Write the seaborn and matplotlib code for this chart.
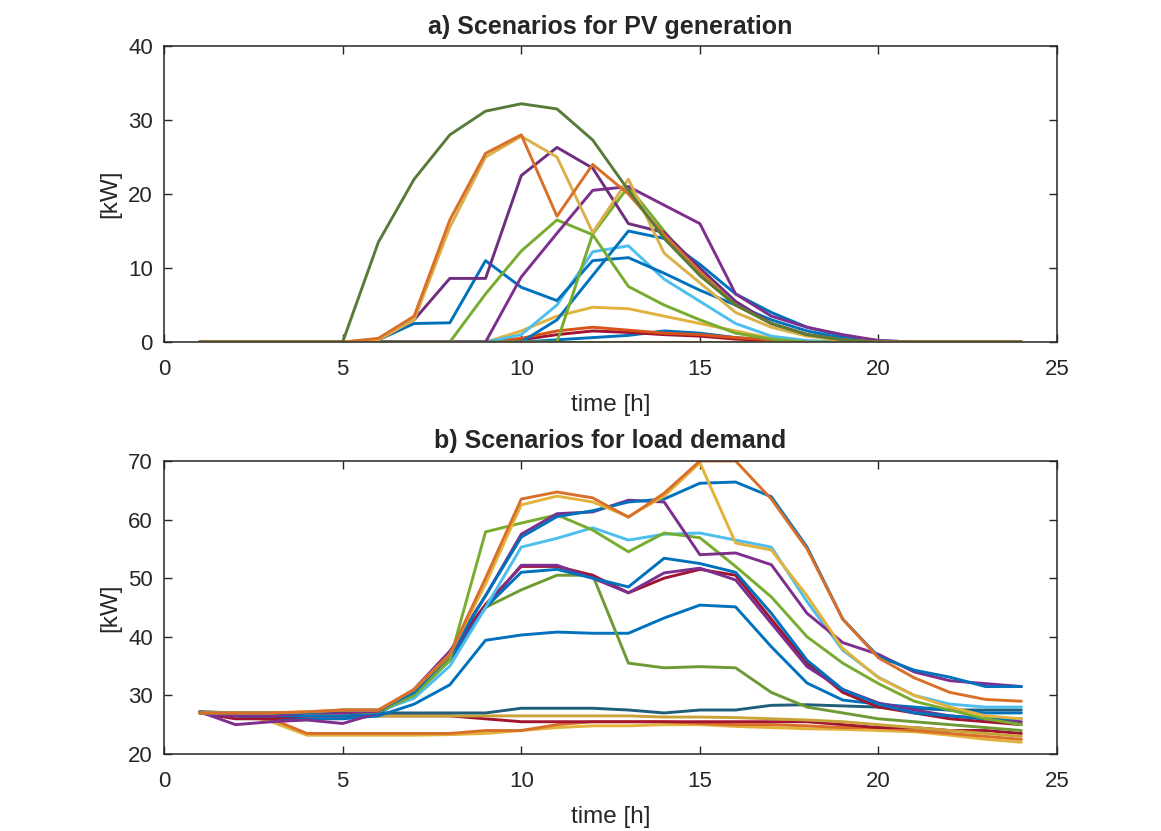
import numpy as np
import pandas as pd
import matplotlib
matplotlib.use("Agg")
import matplotlib.pyplot as plt
import seaborn as sns

hours = list(range(1, 25))

# ---------------- PV generation scenarios [kW] ----------------
pv_zero = [0]*24
pv_s1 = [0,0,0,0,0,13.5,22,28,31.2,32.2,31.5,27.3,20.5,14,9,5,2.5,1,0.3,0,0,0,0,0]
pv_s2 = [0,0,0,0,0,0.5,3.5,16.5,25.5,28,17,24,20,14.5,9.5,5,2.5,1,0.3,0,0,0,0,0]
pv_s3 = [0,0,0,0,0,0.3,3,15.5,25,27.8,25,14.8,22,12,8,4,2,0.8,0.2,0,0,0,0,0]
pv_s4 = [0,0,0,0,0,0.3,3,8.6,8.6,22.5,26.3,23.5,16,14.8,10,5.5,2.5,1,0.3,0,0,0,0,0]
pv_s5 = [0,0,0,0,0,0.3,2.5,2.6,11,7.4,5.6,11,11.4,9.3,7,5,3,1.5,0.5,0,0,0,0,0]
pv_s6 = [0,0,0,0,0,0,0,0,0,1,5,12.2,13,8.5,5.5,2.5,0.8,0.2,0,0,0,0,0,0]
pv_s7 = [0,0,0,0,0,0,0,0,6.5,12.3,16.5,14.5,7.5,5,3,1.2,0.4,0,0,0,0,0,0,0]
pv_s8 = [0,0,0,0,0,0,0,0,0,0,0,14.6,21,15,9,5,2.5,1,0.3,0,0,0,0,0]
pv_s9 = [0,0,0,0,0,0,0,0,0,8.8,14.7,20.5,21,18.5,16,6.5,3.5,2,1,0.2,0,0,0,0]
pv_s10 = [0,0,0,0,0,0,0,0,0,1.5,3.5,4.7,4.5,3.5,2.5,1.5,0.5,0.1,0,0,0,0,0,0]
pv_s11 = [0,0,0,0,0,0,0,0,0,0.5,1.5,2,1.6,1.2,1,0.6,0.3,0,0,0,0,0,0,0]
pv_s12 = [0,0,0,0,0,0,0,0,0,0.3,1,1.5,1.3,1,0.8,0.4,0.2,0,0,0,0,0,0,0]
pv_s13 = [0,0,0,0,0,0,0,0,0,0,0.3,0.6,0.9,1.5,1.2,0.6,0.2,0,0,0,0,0,0,0]
pv_s14 = [0,0,0,0,0,0,0,0,0,0,3,9,15,14,10.5,6.5,4,2,0.8,0.2,0,0,0,0]

pv_series = {
    "pv_zero_a": pv_zero, "pv_s13": pv_s13, "pv_s12": pv_s12, "pv_s11": pv_s11,
    "pv_s10": pv_s10, "pv_s6": pv_s6, "pv_s5": pv_s5, "pv_s14": pv_s14,
    "pv_s7": pv_s7, "pv_s8": pv_s8, "pv_s9": pv_s9,
    "pv_s4": pv_s4, "pv_s3": pv_s3, "pv_s2": pv_s2, "pv_s1": pv_s1,
    "pv_zero_b": pv_zero,
}
pv_colors = {
    "pv_zero_a": "#0072BD", "pv_s13": "#0072BD", "pv_s12": "#A2142F", "pv_s11": "#D95319",
    "pv_s10": "#E3B23C", "pv_s6": "#4DBEEE", "pv_s5": "#0072BD", "pv_s14": "#0072BD",
    "pv_s7": "#77AC30", "pv_s8": "#77AC30", "pv_s9": "#7E2F8E",
    "pv_s4": "#6E2F7E", "pv_s3": "#D9B04A", "pv_s2": "#D9702A", "pv_s1": "#587B3A",
    "pv_zero_b": "#E3B23C",
}

# ---------------- Load demand scenarios [kW] ----------------
ld_low_yellow = [27,27,25.5,23.2,23.2,23.2,23.2,23.3,23.5,24,24.5,24.8,24.8,25,25,24.7,24.5,24.3,24.2,24,23.8,23.2,22.5,22]
ld_low_orange = [27,27,26,23.5,23.5,23.5,23.5,23.5,24,24,25,25.5,25.5,25.5,25.2,25,25,24.8,24.5,24.5,24,23.5,23,22.5]
ld_low_darkred = [27,26.8,26.5,26.5,26.5,26.5,26.5,26.5,26,25.5,25.5,25.5,25.5,25.5,25.5,25.5,25.5,25.5,25,24.5,24.5,24,24,23.5]
ld_flat_yellow = [27.2,27,26.8,26.7,26.6,26.5,26.5,26.5,26.5,26.5,26.5,26.5,26.5,26.3,26.3,26.2,26,25.8,25.5,25,24.5,24,23.5,23]
ld_flat_teal = [27.2,27,27,27,27,27,27,27,27,27.8,27.8,27.8,27.5,27,27.5,27.5,28.3,28.4,28.2,28,27.8,27.5,27.5,27.5]
ld_blue3 = [27,26.5,26,26,26,26.5,28.5,31.8,39.4,40.3,40.8,40.6,40.6,43.2,45.4,45.1,38.3,32.1,29.2,28.5,28,27.5,27,27]
ld_green2 = [27,27,27,27,27,27.3,30.5,36.5,45,48,50.5,50.5,35.5,34.7,34.9,34.7,30.5,28,27,26,25.5,25,24.5,24]
ld_darkred = [27,26,26,26.5,26.5,27,31,37.5,45.5,52,52,50.5,47.5,50,51.5,50.5,43,35.5,30.5,28,27,26,25.5,25]
ld_purple2 = [27.2,25,25.5,25.8,25.2,27,31,37,45,52.2,52.2,50,47.5,50.9,51.7,49.7,42.3,34.9,31,28.7,27.5,26.5,26,25.5]
ld_blue2 = [27,26.5,26.5,26.5,26.5,27,30,36,45,51,51.5,50,48.5,53.4,52.5,51,44,36,31,28.5,27,26.5,26,26]
ld_lblue = [27,27,27,27,27,27.3,29.5,35,45,55.3,56.8,58.6,56.5,57.5,57.7,56.5,55.3,46,37.7,33.1,30,28.5,28,28]
ld_green1 = [27,27,27,27,27,27.2,30,36,57.9,59.4,60.8,58.2,54.5,57.7,56.9,52,46.8,40,35.5,32,29,27.5,26,25]
ld_purple1 = [27,26.5,26.5,27,27,27.3,31,37.5,47,57.5,61,61.3,63.3,63,54,54.3,52.3,44,39,37,34,32.5,32,31.5]
ld_blue1 = [27,27,27,27,27.5,27.5,30.5,37,47,57,60.5,61.5,63,63.5,66.2,66.4,63.9,55.3,43,36.6,34.3,33.1,31.5,31.5]
ld_yellow = [27,27,27,27.2,27.5,27.5,31,37,49,62.5,64,63,60.5,64,69.7,56,54.8,47,38,33,30,28,26.5,26]
ld_orange = [27,27,27,27.2,27.5,27.5,31,37,50,63.5,64.7,63.7,60.4,64.5,70,70,63.5,55,43,36.4,33,30.5,29.3,29]

ld_series = {
    "ld_low_yellow": ld_low_yellow, "ld_low_orange": ld_low_orange, "ld_low_darkred": ld_low_darkred,
    "ld_flat_yellow": ld_flat_yellow, "ld_flat_teal": ld_flat_teal, "ld_blue3": ld_blue3,
    "ld_green2": ld_green2, "ld_darkred": ld_darkred, "ld_purple2": ld_purple2, "ld_blue2": ld_blue2,
    "ld_lblue": ld_lblue, "ld_green1": ld_green1, "ld_purple1": ld_purple1, "ld_blue1": ld_blue1,
    "ld_yellow": ld_yellow, "ld_orange": ld_orange,
}
ld_colors = {
    "ld_low_yellow": "#E3B23C", "ld_low_orange": "#D9702A", "ld_low_darkred": "#A2142F",
    "ld_flat_yellow": "#C9A33A", "ld_flat_teal": "#1F5F7A", "ld_blue3": "#0072BD",
    "ld_green2": "#6E9A35", "ld_darkred": "#A2142F", "ld_purple2": "#7E2F8E", "ld_blue2": "#0072BD",
    "ld_lblue": "#4DBEEE", "ld_green1": "#77AC30", "ld_purple1": "#7E2F8E", "ld_blue1": "#0072BD",
    "ld_yellow": "#E3B23C", "ld_orange": "#D9702A",
}

def to_long(series):
    rows = []
    for name, vals in series.items():
        for h, v in zip(hours, vals):
            rows.append((name, h, v))
    return pd.DataFrame(rows, columns=["scenario", "hour", "kW"])

pv_df = to_long(pv_series)
ld_df = to_long(ld_series)

sns.set_theme(style="white")
plt.rcParams["font.family"] = ["Liberation Sans", "DejaVu Sans"]
txt = "#262626"

fig = plt.figure(figsize=(11.61, 8.31), dpi=100)
ax1 = fig.add_axes([0.1413, 0.5884, 0.7692, 0.3562])
ax2 = fig.add_axes([0.1413, 0.0927, 0.7692, 0.3526])

sns.lineplot(data=pv_df, x="hour", y="kW", hue="scenario", hue_order=list(pv_series.keys()),
             palette=pv_colors, legend=False, linewidth=2.1, estimator=None, ax=ax1)
sns.lineplot(data=ld_df, x="hour", y="kW", hue="scenario", hue_order=list(ld_series.keys()),
             palette=ld_colors, legend=False, linewidth=2.1, estimator=None, ax=ax2)

for ax, ylim, yt, title in [
    (ax1, (0, 40), [0, 10, 20, 30, 40], "a) Scenarios for PV generation"),
    (ax2, (20, 70), [20, 30, 40, 50, 60, 70], "b) Scenarios for load demand"),
]:
    ax.set_xlim(0, 25)
    ax.set_ylim(*ylim)
    ax.set_xticks([0, 5, 10, 15, 20, 25])
    ax.set_yticks(yt)
    ax.tick_params(direction="in", length=6, width=1, colors=txt, labelsize=16,
                   top=True, right=True, bottom=True, left=True)
    ax.tick_params(axis="x", pad=12)
    ax.tick_params(axis="y", pad=8)
    for s in ax.spines.values():
        s.set_visible(True)
        s.set_color(txt)
        s.set_linewidth(1.1)
    ax.set_xlabel("time [h]", fontsize=17.5, color=txt, labelpad=10)
    ax.set_ylabel("[kW]", fontsize=17.5, color=txt, labelpad=5)
    ax.set_title(title, fontsize=18, fontweight="bold", color=txt, pad=9)
    ax.set_facecolor("white")

fig.savefig("out.png", dpi=100, facecolor="white")
